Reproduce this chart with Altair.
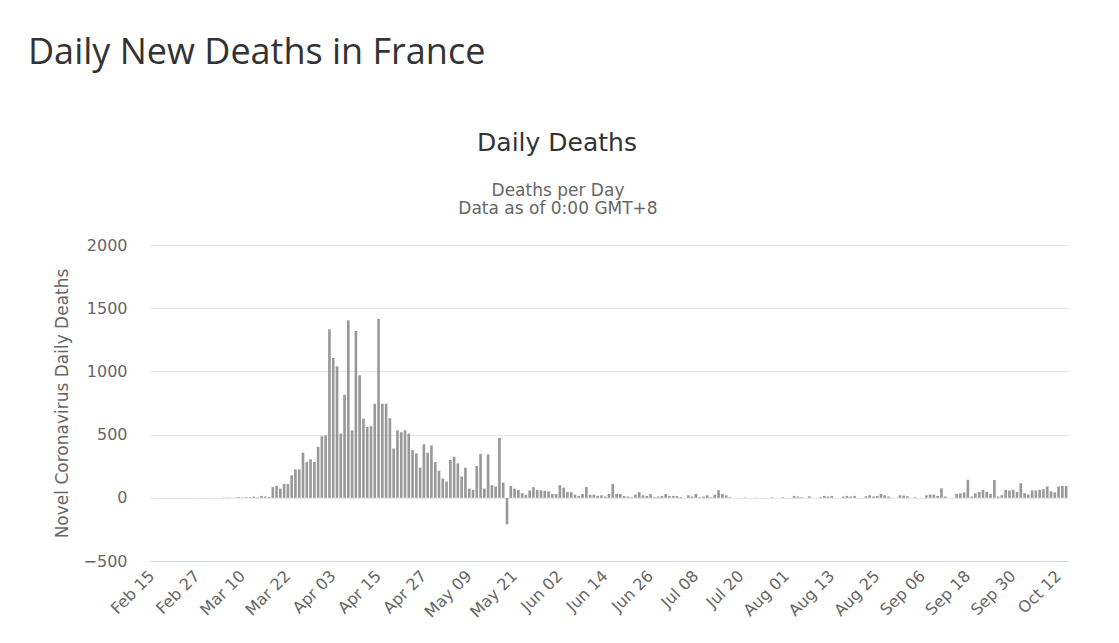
import altair as alt
import pandas as pd

# ---- data ----
START_DATE = "2020-02-15"
DEATHS = [
    # Feb 15 - Feb 29
    1, 0, 0, 0, 0, 0, 0, 0, 0, 0, 0, 1, 0, 0, 0,
    # Mar 1 - Mar 31
    0, 1, 1, 0, 2, 3, 2, 3, 6, 3, 5, 4, 10, 4, 15, 10, 8,
    84, 94, 73, 110, 110, 178, 225, 225, 356, 283, 304, 283, 403, 487,
    # Apr 1 - Apr 30
    495, 1334, 1106, 1040, 508, 815, 1404, 534, 1320, 969, 626, 560, 566, 744, 1415,
    744, 744, 629, 390, 534, 519, 534, 508, 377, 351, 238, 424, 356, 414, 283,
    # May 1 - May 31
    215, 152, 128, 299, 325, 272, 168, 238, 73, 63, 251, 346, 73, 343, 100, 89,
    474, 120, -210, 94, 73, 63, 37, 24, 58, 84, 63, 60, 55, 50, 30,
    # Jun 1 - Jun 30
    30, 100, 80, 45, 45, 25, 15, 30, 85, 25, 25, 15, 20, 10, 30, 110, 30, 30,
    15, 10, 5, 25, 45, 20, 15, 30, 5, 10, 15, 30,
    # Jul 1 - Jul 31
    15, 15, 15, 5, 0, 20, 10, 30, 5, 10, 20, 5, 25, 60, 30, 20, 5, 0, 0, 0,
    3, 0, 0, 2, 0, 0, 0, 4, 0, 0, 5,
    # Aug 1 - Aug 31
    0, 0, 15, 10, 5, 0, 12, 0, 0, 5, 15, 10, 15, 0, 0, 10, 15, 10, 15, 0, 0,
    12, 20, 10, 15, 30, 20, 10, 0, 0, 20,
    # Sep 1 - Sep 30
    18, 12, 0, 5, 0, 0, 20, 26, 25, 15, 75, 10, 0, 0, 31, 35, 42, 142, 10, 35,
    47, 63, 47, 31, 141, 10, 21, 63, 58, 63,
    # Oct 1 - Oct 14
    47, 115, 37, 26, 58, 58, 63, 68, 89, 52, 42, 89, 94, 94,
]
DATES = pd.date_range(START_DATE, periods=len(DEATHS), freq="D").strftime("%b %d").tolist()
TICK_LABELS = ["Feb 15", "Feb 27", "Mar 10", "Mar 22", "Apr 03", "Apr 15", "Apr 27",
               "May 09", "May 21", "Jun 02", "Jun 14", "Jun 26", "Jul 08", "Jul 20",
               "Aug 01", "Aug 13", "Aug 25", "Sep 06", "Sep 18", "Sep 30", "Oct 12"]
Y_TICKS = [-500, 0, 500, 1000, 1500, 2000]

PAGE_TITLE = "Daily New Deaths in France"
CHART_TITLE = "Daily Deaths"
SUBTITLES = ["Deaths per Day", "Data as of 0:00 GMT+8"]
Y_TITLE = "Novel Coronavirus Daily Deaths"

df = pd.DataFrame({"date": DATES, "deaths": DEATHS})

FONT = "DejaVu Sans"

bars = alt.Chart(df).mark_bar(color="#999999").encode(
    x=alt.X("date:O", sort=None,
            scale=alt.Scale(paddingInner=0.3, paddingOuter=0.15),
            axis=alt.Axis(values=TICK_LABELS, title=None, labelAngle=315,
                          labelAlign="right", labelBaseline="middle",
                          labelPadding=12, labelFontSize=16, labelFont=FONT,
                          labelColor="#666666", ticks=False, grid=False,
                          domainColor="#ccd6eb", domainWidth=1)),
    y=alt.Y("deaths:Q",
            scale=alt.Scale(domain=[-500, 2000], nice=False, zero=True),
            axis=alt.Axis(values=Y_TICKS, format="d", title=Y_TITLE, titleFont=FONT,
                          titleFontSize=17, titleFontWeight="normal",
                          titleColor="#666666", titleAngle=270,
                          titleX=-88, titleY=158, titleAlign="center",
                          titleBaseline="middle",
                          labelFont=FONT, labelFontSize=16, labelColor="#666666",
                          labelPadding=23, ticks=False, domain=False,
                          grid=True, gridColor="#e6e6e6", gridWidth=1)),
)

def text_layer(txt, x, y, size, color, font, align="center"):
    return alt.Chart(pd.DataFrame({"t": [txt]})).mark_text(
        font=font, fontSize=size, color=color, align=align, baseline="alphabetic"
    ).encode(text="t:N", x=alt.value(x), y=alt.value(y))

page_title = text_layer(PAGE_TITLE, -122, -181, 36, "#333333", "Open Sans", "left")
chart_title = text_layer(CHART_TITLE, 407, -94, 25, "#333333", FONT)
sub1 = text_layer(SUBTITLES[0], 408, -49, 17, "#666666", FONT)
sub2 = text_layer(SUBTITLES[1], 408, -31, 17, "#666666", FONT)

chart = alt.layer(bars, page_title, chart_title, sub1, sub2).properties(
    width=918, height=316,
    background="white",
    autosize=alt.AutoSizeParams(type="none"),
    padding={"left": 142, "top": 237, "right": 40, "bottom": 70},
).configure_view(stroke="transparent", strokeWidth=0)

chart.save("out.html", embed_options={"renderer": "svg", "actions": False})
